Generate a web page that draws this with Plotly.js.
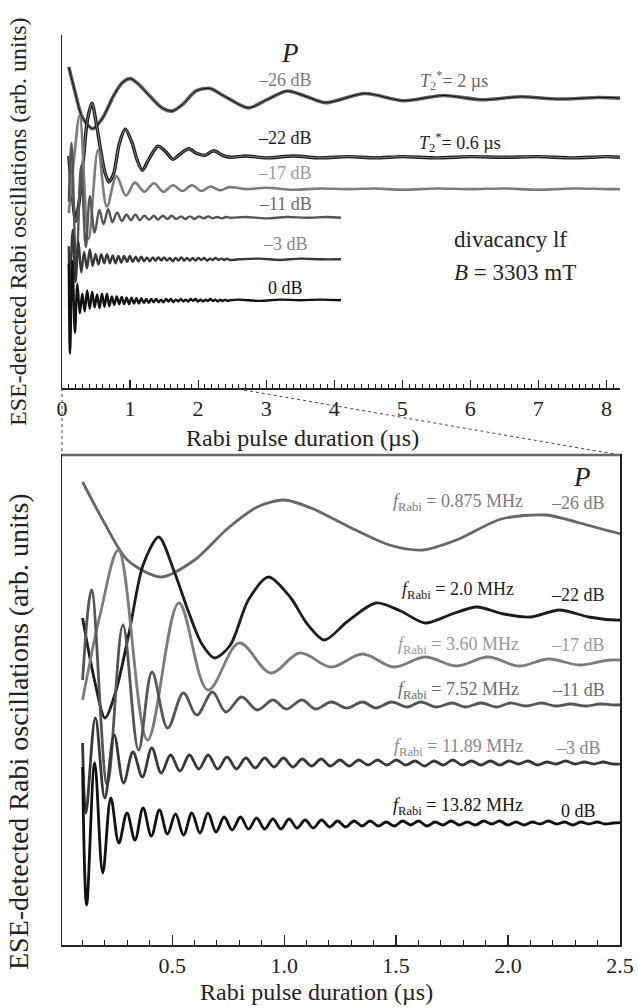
<!DOCTYPE html>
<html>
<head>
<meta charset="utf-8">
<script src="https://cdn.plot.ly/plotly-3.0.1.min.js"></script>
<style>html,body{margin:0;padding:0;background:#fff;}#chart{width:638px;height:1008px;}</style>
</head>
<body>
<div id="chart"></div>
<script>
// ---- Data: [pulse duration (µs), ESE signal (arb. units, relative to own baseline)] ----
const p26 = [[0.10,4.8],[0.20,0.6],[0.30,-3.0],[0.45,-4.7],[0.60,-3.0],[0.75,0.2],[0.88,2.3],[1.00,3.0],[1.12,2.2],[1.30,0.2],[1.47,-1.5],[1.62,-2.0],[1.77,-1.0],[1.97,1.1],[2.17,1.5],[2.32,0.7],[2.47,-0.2],[2.74,-1.5],[3.02,-0.2],[3.31,1.1],[3.60,0.2],[3.88,-0.7],[4.45,0.7],[5.02,-0.4],[5.60,0.4],[6.17,-0.25],[6.74,0.2],[7.30,-0.15],[7.88,0.1],[8.20,0.0]];
const p22 = [[0.10,0.2],[0.15,-5.7],[0.20,-9.8],[0.25,-7.0],[0.31,-1.0],[0.37,5.5],[0.44,8.3],[0.51,4.8],[0.57,1.0],[0.63,-2.3],[0.69,-3.8],[0.76,-2.5],[0.84,2.0],[0.93,4.3],[1.03,2.2],[1.10,-0.3],[1.18,-2.0],[1.28,-0.2],[1.41,1.7],[1.52,0.9],[1.63,-0.3],[1.75,0.6],[1.86,1.3],[1.98,0.6],[2.10,0.3],[2.23,1.0],[2.36,0.3],[2.48,0.0],[2.70,0.2],[3.00,-0.1],[3.40,0.2],[3.80,-0.1],[4.20,0.1],[4.60,-0.1],[5.00,0.1],[5.50,-0.1],[6.00,0.1],[6.50,0.0],[7.00,0.1],[7.50,-0.1],[8.00,0.1],[8.20,0.0]];
const p17 = [[0.10,-3.7],[0.18,5.0],[0.26,11.3],[0.39,-7.7],[0.53,6.0],[0.66,-2.7],[0.80,2.0],[0.94,-1.0],[1.07,1.0],[1.21,-0.4],[1.35,0.9],[1.49,-0.4],[1.63,0.6],[1.77,-0.3],[1.91,0.6],[2.05,-0.3],[2.18,0.4],[2.32,-0.2],[2.46,0.3],[2.70,0.0],[3.00,0.2],[3.40,-0.1],[3.80,0.1],[4.20,0.0],[4.60,0.1],[5.00,-0.1],[5.50,0.1],[6.00,0.0],[6.50,0.1],[7.00,-0.1],[7.50,0.1],[8.00,0.0],[8.20,0.0]];
const p11 = [[0.10,2.5],[0.14,11.5],[0.21,-8.0],[0.28,8.0],[0.35,-4.5],[0.41,3.3],[0.48,-2.3],[0.55,1.2],[0.61,-1.0],[0.68,1.3],[0.74,-0.7],[0.81,0.8],[0.88,-0.5],[0.95,0.5],[1.01,-0.4],[1.08,0.5],[1.14,-0.4],[1.21,0.3],[1.28,-0.3],[1.35,0.3],[1.41,-0.3],[1.48,0.3],[1.55,-0.2],[1.61,0.3],[1.68,-0.2],[1.75,0.2],[1.81,-0.2],[1.88,0.2],[1.95,-0.2],[2.01,0.2],[2.08,-0.1],[2.15,0.2],[2.21,-0.1],[2.28,0.1],[2.35,-0.1],[2.41,0.1],[2.48,0.0],[2.70,0.1],[3.00,-0.1],[3.30,0.1],[3.60,0.0],[3.90,0.1],[4.10,0.0]];
const p3 = [[0.100,2.0],[0.115,-5.0],[0.157,4.5],[0.199,-3.5],[0.241,2.8],[0.283,-2.0],[0.325,1.1],[0.367,-1.4],[0.409,1.5],[0.451,-1.0],[0.493,0.8],[0.535,-0.8],[0.577,0.8],[0.619,-0.6],[0.661,0.8],[0.703,-0.6],[0.745,0.6],[0.787,-0.6],[0.829,0.5],[0.871,-0.5],[0.913,0.5],[0.955,-0.4],[0.997,0.5],[1.039,-0.4],[1.081,0.4],[1.123,-0.3],[1.165,0.4],[1.207,-0.3],[1.249,0.3],[1.291,-0.3],[1.333,0.3],[1.375,-0.2],[1.417,0.3],[1.459,-0.2],[1.501,0.3],[1.543,-0.2],[1.585,0.2],[1.627,-0.3],[1.669,0.2],[1.711,-0.2],[1.753,0.3],[1.795,-0.2],[1.837,0.2],[1.879,-0.2],[1.921,0.2],[1.963,-0.2],[2.005,0.2],[2.047,-0.1],[2.089,0.2],[2.131,-0.2],[2.173,0.1],[2.215,-0.1],[2.257,0.2],[2.299,-0.1],[2.341,0.1],[2.383,-0.1],[2.425,0.1],[2.467,-0.1],[2.600,0.0],[2.900,0.1],[3.200,-0.1],[3.500,0.1],[3.800,0.0],[4.100,0.0]];
const p0 = [[0.100,5.6],[0.118,-8.2],[0.154,6.0],[0.190,-5.0],[0.226,2.5],[0.262,-2.0],[0.298,1.0],[0.334,-1.7],[0.370,1.5],[0.407,-1.3],[0.443,1.3],[0.479,-1.1],[0.515,0.9],[0.551,-1.2],[0.588,1.0],[0.624,-1.0],[0.660,1.0],[0.696,-0.9],[0.732,0.6],[0.768,-0.7],[0.805,0.6],[0.841,-0.6],[0.877,0.5],[0.913,-0.6],[0.950,0.4],[0.986,-0.6],[1.022,0.4],[1.058,-0.5],[1.094,0.3],[1.130,-0.5],[1.167,0.3],[1.203,-0.4],[1.239,0.2],[1.275,-0.4],[1.312,0.2],[1.348,-0.3],[1.384,0.2],[1.420,-0.3],[1.456,0.1],[1.493,-0.3],[1.529,0.2],[1.565,-0.2],[1.601,0.2],[1.637,-0.3],[1.674,0.1],[1.710,-0.2],[1.746,0.2],[1.782,-0.2],[1.818,0.1],[1.855,-0.2],[1.891,0.2],[1.927,-0.1],[1.963,0.2],[1.999,-0.2],[2.036,0.1],[2.072,-0.2],[2.108,0.1],[2.144,-0.1],[2.180,0.2],[2.217,-0.1],[2.253,0.1],[2.289,-0.2],[2.325,0.1],[2.361,-0.1],[2.398,0.1],[2.434,-0.1],[2.470,0.0],[2.600,0.1],[2.900,-0.1],[3.200,0.1],[3.500,0.0],[3.800,0.1],[4.100,0.0]];

const powerLabels = ['\u201326 dB','\u201322 dB','\u201317 dB','\u201311 dB','\u20133 dB','0 dB'];
const rabiFreqs = ['0.875','2.0','3.60','7.52','11.89','13.82'];
const topTicks = [0,1,2,3,4,5,6,7,8];
const botTicks = [0.5,1.0,1.5,2.0,2.5];

// ---- styling / placement ----
const FONT = 'Liberation Serif, "Times New Roman", serif';
const L = 62, R = 620, TOP = 35, BOT = 945;
const px = x => (x - L) / (R - L);
const py = y => (BOT - y) / (BOT - TOP);

const styles = [
  {data:p26, color:'#676767', label:'#7a7a7a', offTop:44.6, offBot:41.5, fit:'#000000', wTop:3.6, wFit:0.9, sm:0.8},
  {data:p22, color:'#1c1c1c', label:'#222222', offTop:35.5, offBot:32.5, fit:'#9a9a9a', wTop:3.4, wFit:0.8, sm:0.8},
  {data:p17, color:'#7c7c7c', label:'#999999', offTop:30.6, offBot:28.2, wTop:2.6, sm:1},
  {data:p11, color:'#555555', label:'#6a6a6a', offTop:26.2, offBot:24.0, wTop:2.4, sm:1},
  {data:p3,  color:'#383838', label:'#888888', offTop:19.8, offBot:18.2, wTop:2.4, sm:1},
  {data:p0,  color:'#111111', label:'#111111', offTop:13.5, offBot:12.2, wTop:2.4, sm:1}
];

const traces = [];
styles.forEach(s => {
  const t = s.data.map(d => d[0]);
  const v = s.data.map(d => d[1]);
  traces.push({x:t, y:v.map(a => a + s.offTop), xaxis:'x', yaxis:'y', type:'scatter', mode:'lines',
    line:{color:s.color, width:s.wTop, shape:'spline', smoothing:s.sm}, hoverinfo:'skip', showlegend:false});
  if (s.fit) traces.push({x:t, y:v.map(a => a + s.offTop), xaxis:'x', yaxis:'y', type:'scatter', mode:'lines',
    line:{color:s.fit, width:s.wFit, shape:'spline', smoothing:s.sm}, hoverinfo:'skip', showlegend:false});
  traces.push({x:t, y:v.map(a => a + s.offBot), xaxis:'x2', yaxis:'y2', type:'scatter', mode:'lines',
    line:{color:s.color, width:2.8, shape:'spline', smoothing:s.sm}, hoverinfo:'skip', showlegend:false});
});

const ann = [];
const A = (x, y, text, size, color, extra) => ann.push(Object.assign({xref:'paper', yref:'paper', x:px(x), y:py(y),
  text:text, showarrow:false, font:{family:FONT, size:size, color:color}, xanchor:'center', yanchor:'middle'}, extra || {}));

// y titles
A(18, 222, 'ESE-detected Rabi oscillations (arb. units)', 24, '#222', {textangle:-90});
A(18, 732, 'ESE-detected Rabi oscillations (arb. units)', 28, '#222', {textangle:-90});
// x titles
A(302, 438, 'Rabi pulse duration (\u00b5s)', 24, '#222');
A(316, 992, 'Rabi pulse duration (\u00b5s)', 24, '#222');

// top panel labels
A(290, 53, '<i>P</i>', 27, '#222');
const topLabelY = [80, 138, 173, 204, 244, 288];
styles.forEach((s, i) => A(285, topLabelY[i], powerLabels[i], 18, s.label));
A(454, 80, '<i>T</i><sub>2</sub><sup>*</sup>= 2 \u00b5s', 18, '#666');
A(460, 142, '<i>T</i><sub>2</sub><sup>*</sup>= 0.6 \u00b5s', 18, '#222');
A(452, 240, 'divacancy lf', 23, '#222', {xanchor:'left'});
A(452, 272, '<i>B</i> = 3303 mT', 23, '#222', {xanchor:'left'});

// bottom panel labels
A(582, 477, '<i>P</i>', 27, '#222');
const botLabelY = [503, 590, 645, 690, 747, 806];
const botPowY  = [503, 595, 645, 690, 748, 811];
styles.forEach((s, i) => {
  A(458, botLabelY[i], '<i>f</i><sub>Rabi</sub> = ' + rabiFreqs[i] + ' MHz', 18, s.label);
  A(578, botPowY[i], powerLabels[i], 18, s.label);
});

const axisCommon = {showgrid:false, zeroline:false, linecolor:'#222', linewidth:1.5,
  tickfont:{family:FONT, size:22, color:'#222'}, tickcolor:'#222', ticklabelstandoff:0};

const layout = {
  width:638, height:1008,
  margin:{l:L, r:638 - R, t:TOP, b:1008 - BOT},
  paper_bgcolor:'#fff', plot_bgcolor:'#fff',
  showlegend:false,
  xaxis: Object.assign({}, axisCommon, {domain:[0,1], anchor:'y', range:[0, 8.2], showline:true,
    ticks:'inside', ticklen:8, tickwidth:1.2, tickvals:topTicks, ticktext:topTicks.map(String),
    minor:{ticks:'inside', dtick:0.1, tick0:0, ticklen:4, tickwidth:1, tickcolor:'#222'}}),
  yaxis: {domain:[py(388), 1], anchor:'x', range:[0, (388 - TOP) / 6.5], showline:true, linecolor:'#222', linewidth:1.5,
    showticklabels:false, ticks:'', showgrid:false, zeroline:false},
  xaxis2: Object.assign({}, axisCommon, {domain:[0,1], anchor:'y2', range:[0.008, 2.5], showline:true, mirror:true,
    ticks:'inside', ticklen:10, tickwidth:1.2, tickvals:botTicks, ticktext:['0.5','1.0','1.5','2.0','2.5'],
    minor:{ticks:'inside', dtick:0.1, tick0:0.1, ticklen:5, tickwidth:1, tickcolor:'#222'}}),
  yaxis2: {domain:[0, py(455)], anchor:'x2', range:[0, (BOT - 455) / 10], showline:true, mirror:true,
    linecolor:'#222', linewidth:1.5, showticklabels:false, ticks:'', showgrid:false, zeroline:false},
  annotations: ann,
  shapes: [
    {type:'line', xref:'paper', yref:'paper', x0:0, y0:py(388), x1:0, y1:py(455), line:{color:'#444', width:1, dash:'dot'}},
    {type:'line', xref:'paper', yref:'paper', x0:2.5/8.2, y0:py(388), x1:1, y1:py(455), line:{color:'#444', width:1, dash:'dot'}},
    {type:'line', xref:'paper', yref:'paper', x0:0, y0:py(455), x1:1, y1:py(455), line:{color:'#666', width:2.5}}
  ]
};

Plotly.newPlot('chart', traces, layout, {staticPlot:true, displayModeBar:false});
</script>
</body>
</html>
